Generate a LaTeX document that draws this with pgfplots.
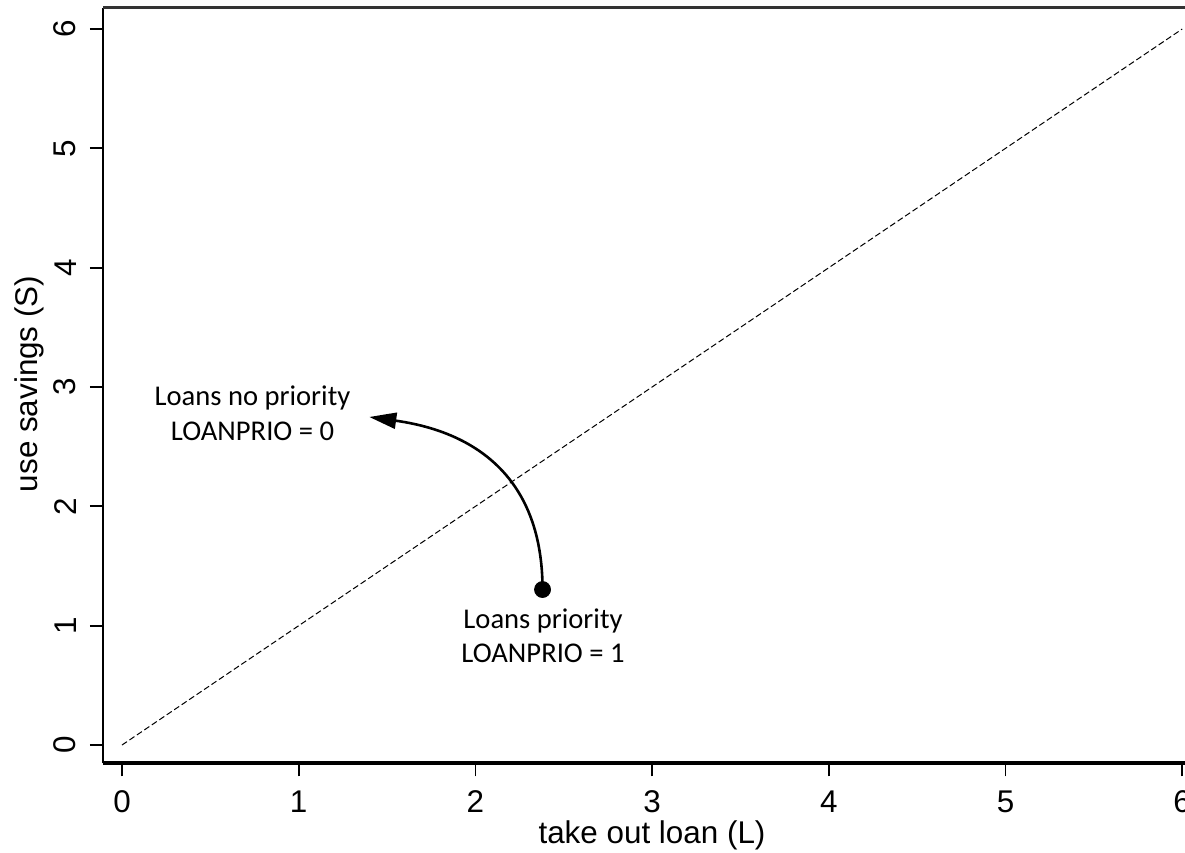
\documentclass[border=0pt]{standalone}
\usepackage{pgfplots}
\pgfplotsset{compat=1.18}
\usetikzlibrary{arrows.meta}
\usepackage{fontspec}
\setmainfont{Liberation Sans}
\newfontfamily\calfont{Carlito}
\begin{document}
\begin{tikzpicture}
\begin{axis}[
  scale only axis,
  width=541pt, height=377.9pt,
  xmin=-0.1075, xmax=6.0158,
  ymin=-0.1534, ymax=6.180,
  axis x line*=bottom, axis y line*=left,
  axis line style={-},
  x axis line style={line width=2pt},
  y axis line style={line width=1.2pt},
  xtick={0,1,2,3,4,5,6}, ytick={0,1,2,3,4,5,6},
  tick align=outside,
  major tick length=6.5pt,
  tick style={black, line width=0.9pt},
  /pgf/number format/assume math mode=true,
  ticklabel style={font=\fontsize{15.7}{18}\selectfont, inner sep=0pt},
  xticklabel style={anchor=north, yshift=-6.85pt},
  yticklabel style={xshift=-6.75pt, rotate=90, anchor=south},
  xlabel={take out loan (L)},
  ylabel={use savings (S)},
  label style={font=\fontsize{15.7}{18}\selectfont},
  xlabel style={at={([yshift=-39.85pt]axis description cs:0.5074,0)}, anchor=base},
  ylabel style={at={([xshift=-32.5pt]axis description cs:0,0.502)}, rotate=0, anchor=base},
  clip=false,
]
\addplot[black, line width=0.5pt, dash pattern=on 3pt off 1.5pt] coordinates {(0,0) (6,6)};
\addplot[only marks, mark=*, mark size=4pt, black] coordinates {(2.380,1.303)};
\draw[black!80, line width=1.2pt] (rel axis cs:0,1) -- (rel axis cs:1,1);
\draw[black, line width=1.3pt, -{Triangle[length=13.5pt,width=8pt]}]
  (axis cs:2.380,1.303) to[out=90,in=-8,looseness=1.15] (axis cs:1.3995,2.749);
\node[font=\calfont\fontsize{14.3}{17}\selectfont, anchor=base] at (axis cs:0.7385,2.841) {Loans no priority};
\node[font=\calfont\fontsize{14.3}{17}\selectfont, anchor=base] at (axis cs:0.7385,2.548) {LOANPRIO = 0};
\node[font=\calfont\fontsize{14.3}{17}\selectfont, anchor=base] at (axis cs:2.3826,0.9805) {Loans priority};
\node[font=\calfont\fontsize{14.3}{17}\selectfont, anchor=base] at (axis cs:2.3826,0.6956) {LOANPRIO = 1};
\coordinate (bbl) at (axis cs:-0.6904,-0.8967);
\coordinate (btr) at (axis cs:6.0158,6.2432);
\end{axis}
\pgfresetboundingbox
\useasboundingbox (bbl) rectangle (btr);
\end{tikzpicture}
\end{document}
